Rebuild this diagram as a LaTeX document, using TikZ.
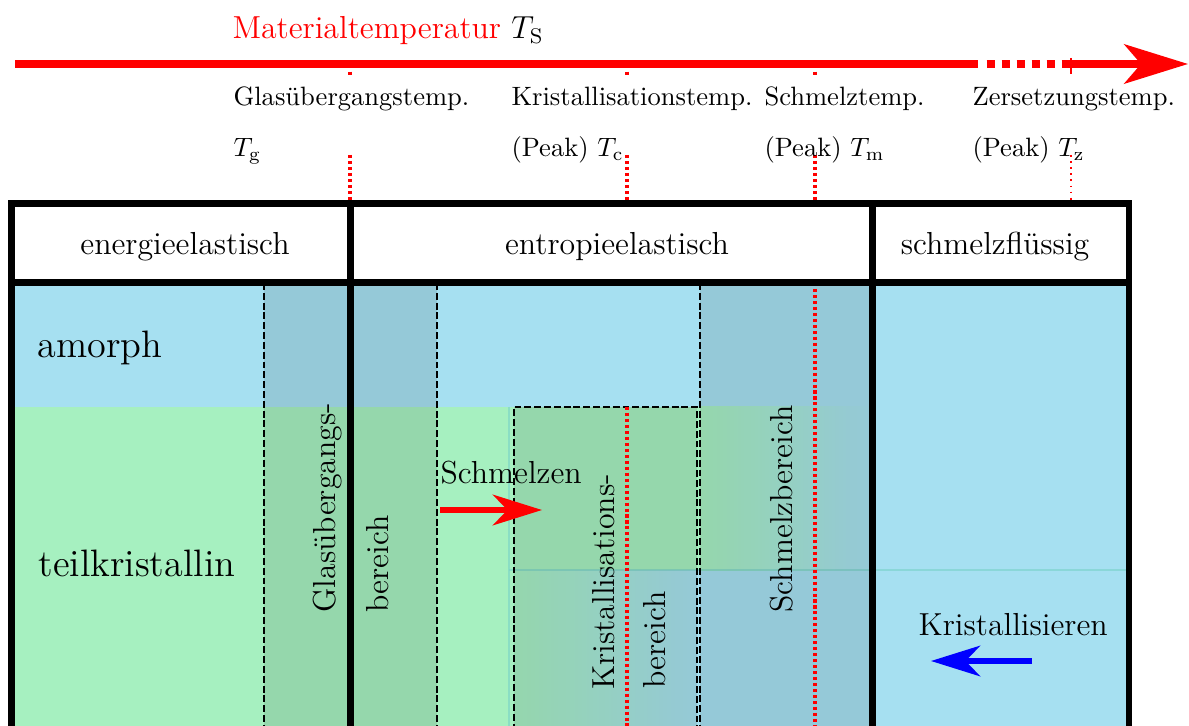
\documentclass[tikz,border=0pt]{standalone}
\usetikzlibrary{arrows.meta}
\definecolor{amblue}{RGB}{166,224,241}
\definecolor{tkgreen}{RGB}{166,240,192}
\definecolor{edgecol}{RGB}{120,210,200}
\begin{document}
\begin{tikzpicture}[x=0.37679pt, y=-0.37679pt,
  frame/.style={line width=2.45pt, black, line cap=rect, line join=miter},
  dashline/.style={line width=0.85pt, black, dash pattern=on 2.6pt off 1.1pt},
  peak/.style={red, line width=1.2pt, dash pattern=on 1.15pt off 1.1pt},
  thinpeak/.style={red, line width=0.6pt, dash pattern=on 0.7pt off 1.6pt},
  band/.style={fill=black, fill opacity=0.1},
  faint/.style={draw=edgecol, draw opacity=0.6, line width=0.4pt},
  toplabel/.style={anchor=base west, inner sep=0pt, font=\normalsize},
  headlabel/.style={anchor=base, inner sep=0pt, font=\large},
  biglabel/.style={anchor=base west, inner sep=0pt, font=\Large},
  rot/.style={rotate=90, anchor=west, inner sep=0pt, font=\large},
  arrowlabel/.style={anchor=base west, inner sep=0pt, font=\large},
  bigarrow/.style={line width=2.7pt, red},
  smallhead/.style={-{Stealth[length=18.5pt, width=11.5pt, inset=5.5pt]}},
]
\useasboundingbox (0,0) rectangle (1189,726);
\clip (0,0) rectangle (1189,726);

% ---------- body colours ----------
\fill[amblue] (11.5,283) rectangle (1129,760);
\fill[tkgreen] (11.5,407) rectangle (700,570);
\shade[left color=tkgreen, right color=amblue] (700,407) rectangle (872,570);
\fill[tkgreen] (11.5,570) rectangle (509,760);
\shade[left color=tkgreen, right color=amblue] (509,570) rectangle (700,760);
\draw[faint] (509,407) -- (509,760);
\draw[faint] (509,570) -- (1129,570);

% ---------- shaded ranges ----------
\fill[band] (264,283) rectangle (437,760);
\fill[band] (700,283) rectangle (872,760);
\fill[band] (514,407) rectangle (697,760);

\draw[dashline] (264,283) -- (264,760);
\draw[dashline] (437,283) -- (437,760);
\draw[dashline] (700,283) -- (700,760);
\draw[dashline] (514,760) -- (514,407) -- (697,407) -- (697,760);

\draw[peak] (815,283) -- (815,760);
\draw[peak] (627,407) -- (627,760);

% ---------- header ----------
\fill[white] (11.5,203.7) rectangle (1129,282.5);
\draw[frame] (11.5,760) -- (11.5,203.7) -- (1129,203.7) -- (1129,760);
\draw[frame] (11.5,282.5) -- (1129,282.5);
\draw[frame] (350.7,203.7) -- (350.7,760);
\draw[frame] (872.5,203.7) -- (872.5,760);

\node[headlabel] (h1) at (185,255) {energieelastisch};
\node[headlabel] (h2) at (617,255) {entropieelastisch};
\node[headlabel] (h3) at (995,255) {schmelzflüssig};

\node[biglabel] (am) at (37,358) {amorph};
\node[biglabel] (tk) at (38,576) {teilkristallin};

\node[rot] (gb1) at (328,613) {Glasübergangs-};
\node[rot] (gb2) at (378,613) {bereich};
\node[rot] (kb1) at (604,690) {Kristallisations-};
\node[rot] (kb2) at (655,689) {bereich};
\node[rot] (sb) at (782,613) {Schmelzbereich};

% ---------- process arrows ----------
\node[arrowlabel] (schm) at (440,483) {Schmelzen};
\coordinate (s0) at (440,510);
\coordinate (s1) at (542,510);
\draw[red, line width=2.3pt, smallhead] (s0) -- (s1);

\node[arrowlabel] (kri) at (918,635) {Kristallisieren};
\coordinate (k0) at (1032,661);
\coordinate (k1) at (931,661);
\draw[blue, line width=2.1pt, smallhead] (k0) -- (k1);

% ---------- temperature axis ----------
\node[anchor=base west, inner sep=0pt, font=\large] (mt) at (232,39)
  {\textcolor{red}{Materialtemperatur} $T_\mathrm{S}$};
\coordinate (a0) at (15,64);
\coordinate (a1) at (978,64);
\coordinate (a2) at (986.7,64);
\coordinate (a3) at (1070,64);
\coordinate (a4) at (1188,64);
\draw[bigarrow] (a0) -- (a1);
\draw[bigarrow, dash pattern=on 3.13pt off 2.52pt] (a2) -- (a3);
\draw[bigarrow, -{Stealth[length=24pt, width=14.8pt, inset=6.3pt]}] (a3) -- (a4);

\draw[red, line width=0.75pt] (1071,58) -- (1071,74);
\foreach \xx in {350,627,815} {
  \draw[red, line width=1.2pt] (\xx,71.7) -- (\xx,75);
  \draw[peak] (\xx,155) -- (\xx,200);
}
\draw[thinpeak] (1071,155) -- (1071,200);

\node[toplabel] (l1a) at (233,106) {Glasübergangstemp.};
\node[toplabel] (l1b) at (233,157) {$T_\mathrm{g}$};
\node[toplabel] (l2a) at (511,106) {Kristallisationstemp.};
\node[toplabel] (l2b) at (511,157) {(Peak) $T_\mathrm{c}$};
\node[toplabel] (l3a) at (764,106) {Schmelztemp.};
\node[toplabel] (l3b) at (764,157) {(Peak) $T_\mathrm{m}$};
\node[toplabel] (l4a) at (972,106) {Zersetzungstemp.};
\node[toplabel] (l4b) at (972,157) {(Peak) $T_\mathrm{z}$};
\end{tikzpicture}
\end{document}
